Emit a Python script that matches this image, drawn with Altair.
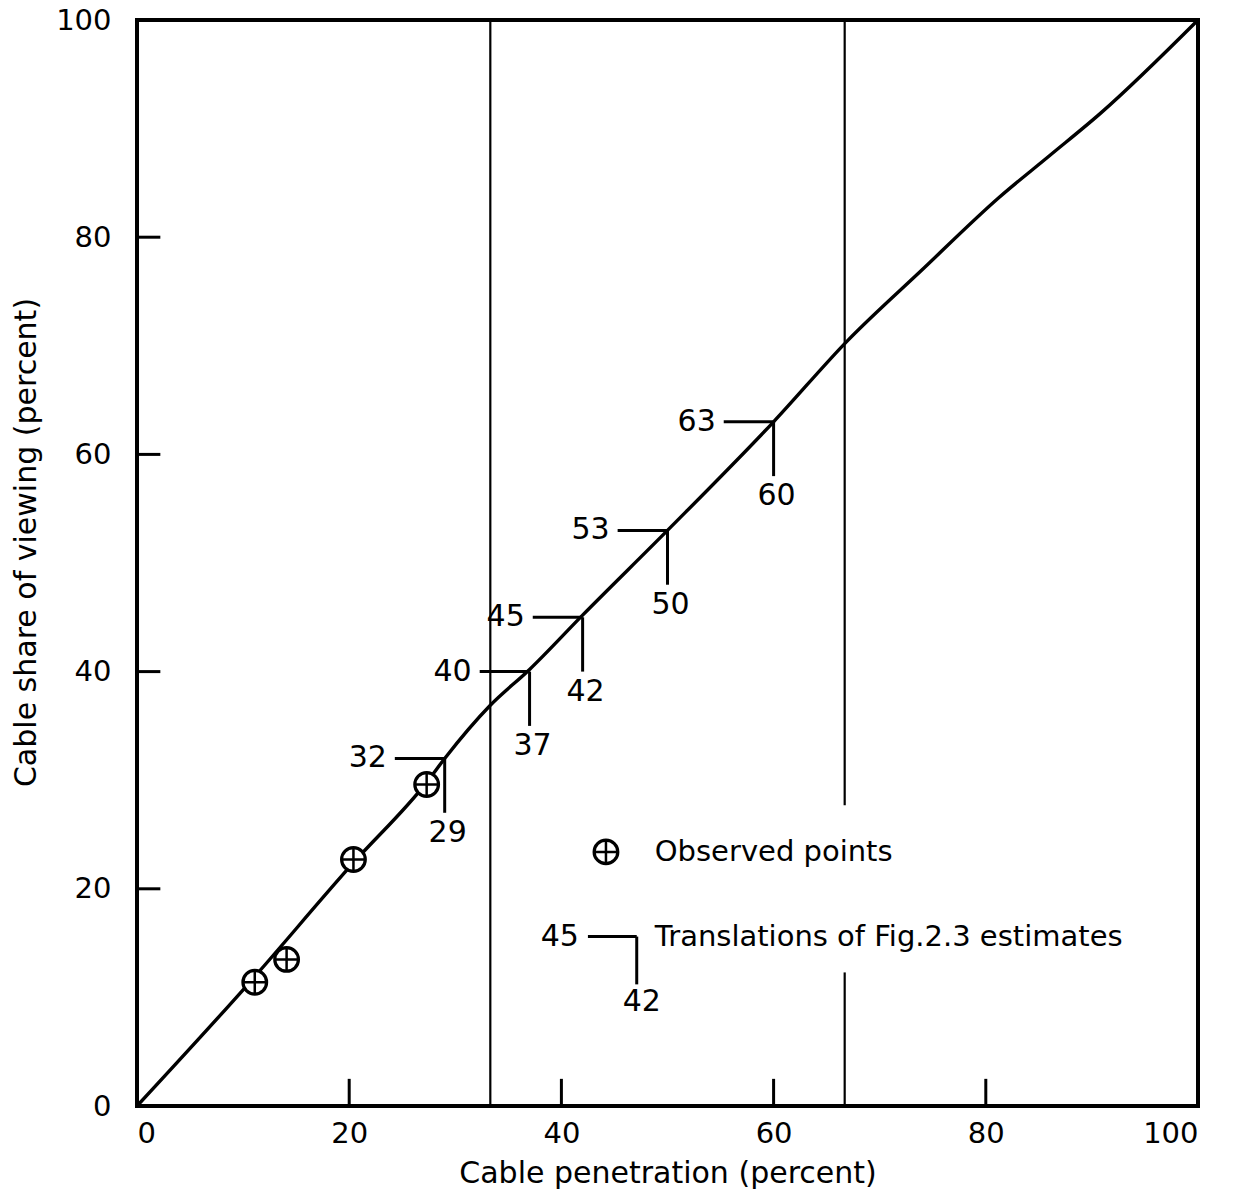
import altair as alt
import pandas as pd

# ---- data ----
curve_x = [0, 10, 20.4, 27.3, 29, 33.3, 37, 42, 50, 60, 67, 74, 81.3, 86, 90.8, 100]
curve_y = [0, 10.7, 22.4, 29.8, 32, 36.9, 40.2, 45.2, 53, 63, 70.5, 77.0, 83.7, 87.5, 91.4, 100]

obs_x = [11.1, 14.1, 20.4, 27.3]
obs_y = [11.4, 13.5, 22.7, 29.6]

# translations of Fig. 2.3 estimates: penetration (x) and share (y)
trans_x = [29, 37, 42, 50, 60]
trans_y = [32, 40, 45, 53, 63]

# vertical dividers (segments)
div_x = [33.3, 66.7, 66.7]
div_y0 = [0, 0, 27.7]
div_y1 = [100, 12.3, 100]

tick_vals = [20, 40, 60, 80]
axis_vals = [0, 20, 40, 60, 80, 100]

# legend
legend_obs_x = [44.2]
legend_obs_y = [23.4]
legend_obs_text = ["Observed points"]
legend_tr_cx = [47.1]
legend_tr_cy = [15.6]
legend_tr_left = [45]
legend_tr_bottom = [42]
legend_tr_text = ["Translations of Fig.2.3 estimates"]
legend_text_x = [48.8]

FONT = "DejaVu Sans"
W, H = 1061, 1086

xs = alt.Scale(domain=[0, 100], nice=False, zero=False)
ys = alt.Scale(domain=[0, 100], nice=False, zero=False)

X_AX = alt.Axis(values=axis_vals, ticks=False, domain=False, grid=False, format="d",
                labelPadding=13, title="Cable penetration (percent)", titlePadding=10)
Y_AX = alt.Axis(values=axis_vals, ticks=False, domain=False, grid=False, format="d",
                labelPadding=26, title="Cable share of viewing (percent)", titlePadding=14,
                titleY=522)


def X(f):
    return alt.X(f, scale=xs, axis=X_AX)


def Y(f):
    return alt.Y(f, scale=ys, axis=Y_AX)


curve_df = pd.DataFrame({"x": curve_x, "y": curve_y})
obs_df = pd.DataFrame({"x": obs_x, "y": obs_y})
trans_df = pd.DataFrame({"px": trans_x, "sy": trans_y})
div_df = pd.DataFrame({"x": div_x, "y0": div_y0, "y1": div_y1})
tick_df = pd.DataFrame({"v": tick_vals})

curve = alt.Chart(curve_df).mark_line(color="black", strokeWidth=3.4, interpolate="monotone").encode(
    x=X("x:Q"), y=Y("y:Q"), order="x:Q",
)

dividers = alt.Chart(div_df).mark_rule(color="black", strokeWidth=2.2).encode(
    x=X("x:Q"), y=Y("y0:Q"), y2="y1:Q",
)

xticks = alt.Chart(tick_df).transform_calculate(y0="0", y1="2.5").mark_rule(
    color="black", strokeWidth=3).encode(
    x=X("v:Q"), y=Y("y0:Q"), y2="y1:Q",
)
yticks = alt.Chart(tick_df).transform_calculate(x0="0", x1="2.2").mark_rule(
    color="black", strokeWidth=3).encode(
    y=Y("v:Q"), x=X("x0:Q"), x2="x1:Q",
)

plus_path = "M-1,0L1,0M0,-1L0,1"


def obs_marker(df):
    c = alt.Chart(df).mark_point(shape="circle", filled=True, fill="white", stroke="black",
                                 strokeWidth=3.2, size=560, opacity=1).encode(
        x=X("x:Q"), y=Y("y:Q"))
    p = alt.Chart(df).mark_point(shape=plus_path, filled=False, stroke="black",
                                 strokeWidth=2.5, size=560, opacity=1).encode(
        x=X("x:Q"), y=Y("y:Q"))
    return [c, p]


obs_layers = obs_marker(obs_df)

HL = 4.7  # horizontal stub length (data units)
VL = 5.0  # vertical stub length (data units)

tr = alt.Chart(trans_df).transform_calculate(
    xl=f"datum.px - {HL}", yb=f"datum.sy - {VL}")

t_h = tr.mark_rule(color="black", strokeWidth=3).encode(
    x=X("xl:Q"), x2="px:Q", y=Y("sy:Q"))
t_v = tr.mark_rule(color="black", strokeWidth=3).encode(
    x=X("px:Q"), y=Y("sy:Q"), y2="yb:Q")
t_lab_l = tr.mark_text(font=FONT, fontSize=30, align="right", baseline="middle", dx=-8,
                       color="black").encode(
    x=X("xl:Q"), y=Y("sy:Q"), text="sy:Q")
t_lab_b = tr.mark_text(font=FONT, fontSize=30, align="center", baseline="top", dy=5, dx=3,
                       color="black").encode(
    x=X("px:Q"), y=Y("yb:Q"), text="px:Q")

# legend
leg_obs_df = pd.DataFrame({"x": legend_obs_x, "y": legend_obs_y})
leg_obs_layers = obs_marker(leg_obs_df)
leg_obs_text = alt.Chart(pd.DataFrame({"x": legend_text_x, "y": legend_obs_y,
                                       "t": legend_obs_text})).mark_text(
    font=FONT, fontSize=29, align="left", baseline="middle", color="black").encode(
    x=X("x:Q"), y=Y("y:Q"), text="t:N")

leg_tr = alt.Chart(pd.DataFrame({"px": legend_tr_cx, "sy": legend_tr_cy,
                                 "l": legend_tr_left, "b": legend_tr_bottom})).transform_calculate(
    xl="datum.px - 4.6", yb="datum.sy - 4.4")
lt_h = leg_tr.mark_rule(color="black", strokeWidth=3).encode(
    x=X("xl:Q"), x2="px:Q", y=Y("sy:Q"))
lt_v = leg_tr.mark_rule(color="black", strokeWidth=3).encode(
    x=X("px:Q"), y=Y("sy:Q"), y2="yb:Q")
lt_l = leg_tr.mark_text(font=FONT, fontSize=30, align="right", baseline="middle", dx=-9,
                        color="black").encode(
    x=X("xl:Q"), y=Y("sy:Q"), text="l:Q")
lt_b = leg_tr.mark_text(font=FONT, fontSize=30, align="center", baseline="top", dy=3, dx=5,
                        color="black").encode(
    x=X("px:Q"), y=Y("yb:Q"), text="b:Q")
leg_tr_text = alt.Chart(pd.DataFrame({"x": legend_text_x, "y": legend_tr_cy,
                                      "t": legend_tr_text})).mark_text(
    font=FONT, fontSize=29, align="left", baseline="middle", color="black").encode(
    x=X("x:Q"), y=Y("y:Q"), text="t:N")

chart = alt.layer(
    curve, dividers, xticks, yticks,
    t_h, t_v, t_lab_l, t_lab_b,
    *obs_layers,
    *leg_obs_layers, leg_obs_text,
    lt_h, lt_v, lt_l, lt_b, leg_tr_text,
).properties(
    width=W, height=H,
    autosize=alt.AutoSizeParams(type="none"),
    padding={"left": 137, "top": 20, "right": 43, "bottom": 94},
    background="white",
).configure_view(
    stroke="black", strokeWidth=4,
).configure_axis(
    labelFont=FONT, labelFontSize=29, labelColor="black",
    titleFont=FONT, titleFontSize=30, titleColor="black", titleFontWeight="normal",
)

chart.save("out.html", embed_options={"renderer": "svg", "actions": False})
